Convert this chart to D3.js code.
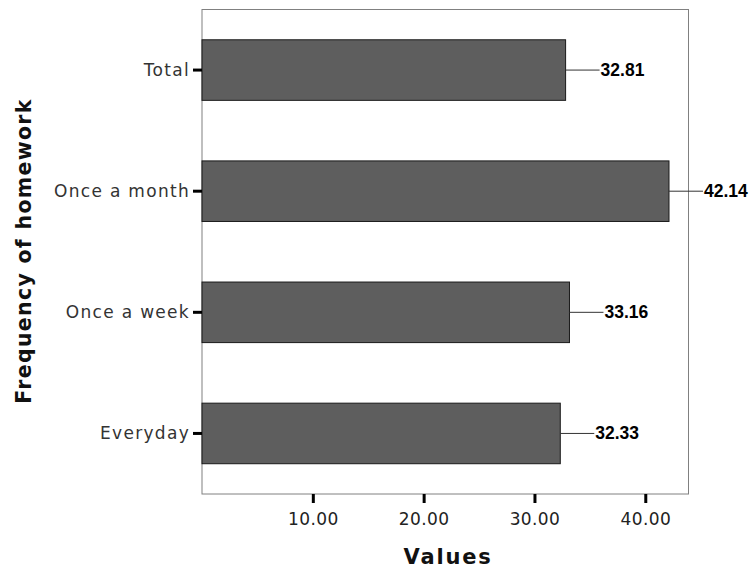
<!DOCTYPE html>
<html><head><meta charset="utf-8">
<script src="https://cdn.jsdelivr.net/npm/d3@7"></script>
<style>body{margin:0;background:#fff}svg{display:block}</style>
</head><body>
<svg id="c" width="750" height="571"></svg>
<script>
const categories = ["Total", "Once a month", "Once a week", "Everyday"];
const values = [32.81, 42.14, 33.16, 32.33];
const xTicks = [10, 20, 30, 40];
const xTitle = "Values";
const yTitle = "Frequency of homework";

const svg = d3.select("#c");
const L = 202, R = 688.5, T = 9.5, B = 494;
const x = d3.scaleLinear().domain([0, 43.9]).range([L, R]);
const y = d3.scaleBand().domain(categories).range([T, B]).paddingInner(0.5).paddingOuter(0.25);

svg.append("rect").attr("x", L).attr("y", T).attr("width", R - L).attr("height", B - T)
  .attr("fill", "#fff").attr("stroke", "#808080").attr("stroke-width", 1);

const data = categories.map((c, i) => ({c, v: values[i]}));

svg.selectAll(".bar").data(data).enter().append("rect")
  .attr("x", x(0)).attr("y", d => y(d.c))
  .attr("width", d => x(d.v) - x(0)).attr("height", y.bandwidth())
  .attr("fill", "#5e5e5e").attr("stroke", "#1a1a1a").attr("stroke-width", 1);

svg.selectAll(".lead").data(data).enter().append("line")
  .attr("x1", d => x(d.v)).attr("x2", d => x(d.v) + 34)
  .attr("y1", d => y(d.c) + y.bandwidth() / 2).attr("y2", d => y(d.c) + y.bandwidth() / 2)
  .attr("stroke", "#333").attr("stroke-width", 1);

svg.selectAll(".lbl").data(data).enter().append("text")
  .attr("x", d => x(d.v) + 35).attr("y", d => y(d.c) + y.bandwidth() / 2 + 6)
  .style("font-family", "Liberation Sans, Arial, sans-serif").style("font-weight", "bold")
  .style("font-size", "17.5px").attr("fill", "#000")
  .text(d => d.v.toFixed(2));

// y axis
const yAxis = svg.append("g").attr("transform", `translate(${L},0)`)
  .call(d3.axisLeft(y).tickSize(9).tickPadding(3));
yAxis.select(".domain").remove();
yAxis.selectAll(".tick line").attr("stroke", "#000").attr("stroke-width", 3);
yAxis.selectAll(".tick text").style("font-family", "DejaVu Sans, sans-serif")
  .style("font-size", "17px").style("letter-spacing", "1.3px").attr("fill", "#333").attr("dy", "0.35em");

// x axis
const xAxis = svg.append("g").attr("transform", `translate(0,${B})`)
  .call(d3.axisBottom(x).tickValues(xTicks).tickFormat(d3.format(".2f")).tickSize(9).tickPadding(10));
xAxis.select(".domain").remove();
xAxis.selectAll(".tick line").attr("stroke", "#000").attr("stroke-width", 3);
xAxis.selectAll(".tick text").style("font-family", "DejaVu Sans, sans-serif")
  .style("font-size", "17px").style("letter-spacing", "0.4px").attr("fill", "#222");

svg.append("text").attr("x", 448).attr("y", 564).attr("text-anchor", "middle")
  .style("font-family", "DejaVu Sans, sans-serif").style("font-weight", "bold")
  .style("font-size", "21px").style("letter-spacing", "1.8px").attr("fill", "#111").text(xTitle);

svg.append("text").attr("transform", "translate(31,251) rotate(-90)").attr("text-anchor", "middle")
  .style("font-family", "DejaVu Sans, sans-serif").style("font-weight", "bold")
  .style("font-size", "20.5px").style("letter-spacing", "1.3px").attr("fill", "#111").text(yTitle);
</script>
</body></html>
